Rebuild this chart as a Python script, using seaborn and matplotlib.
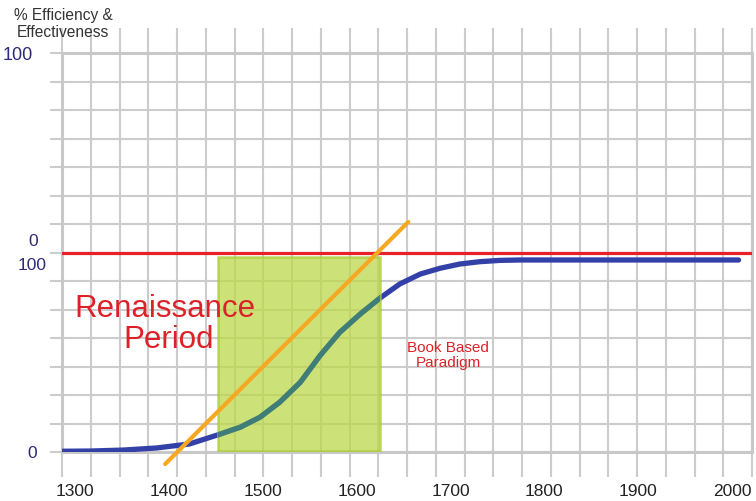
import numpy as np
import pandas as pd
import matplotlib
matplotlib.use("Agg")
import matplotlib.pyplot as plt
import seaborn as sns

# S-curve of efficiency & effectiveness over time
years = [1287, 1316, 1351, 1387, 1422, 1452, 1476, 1497, 1518, 1540, 1561,
         1582, 1604, 1625, 1646, 1668, 1689, 1710, 1731, 1753, 1774, 1838, 2007]
efficiency = [0.4, 0.5, 1.0, 2.1, 4.2, 8.9, 12.9, 18.1, 25.9, 36.3, 50.2,
              62.3, 71.9, 80.2, 87.5, 92.7, 95.7, 97.9, 99.1, 99.8, 100, 100, 100]

# Trend line across the Renaissance
trend_years = [1396, 1655]
trend_values = [-6.3, 119.8]

# Renaissance period band and the ceiling of the book-based paradigm
period_years = [1452, 1625]
period_levels = [0.5, 101.5]
ceiling = 103.6

tick_years = [1300, 1400, 1500, 1600, 1700, 1800, 1900, 2000]

W, H = 756, 502
x_min, x_max = 1286.1, 2021.3
y_min, y_max = 0.0, 207.8

sns.set_theme(style="white")
plt.rcParams["font.family"] = ["Liberation Sans", "DejaVu Sans"]

fig = plt.figure(figsize=(W / 100, H / 100), dpi=100)
fig.patch.set_facecolor("white")
ax = fig.add_axes([62 / W, 49 / H, 690 / W, 399 / H])
ax.set_facecolor("white")
ax.set_xlim(x_min, x_max)
ax.set_ylim(y_min, y_max)

grid_c = "#cccccc"
ax.set_xticks(np.linspace(x_min, x_max, 25))
ax.set_yticks(np.linspace(y_min, y_max, 15))
ax.grid(True, which="major", color=grid_c, linewidth=1.5, zorder=0)
ax.set_axisbelow(True)
ax.tick_params(axis="x", which="major", length=18, width=1.5, color=grid_c,
               direction="out", labelbottom=False, top=True, bottom=True)
ax.tick_params(axis="y", which="major", length=8.6, width=1.5, color=grid_c,
               direction="out", labelleft=False, left=True)
ax.set_xticks(tick_years, labels=[str(y) for y in tick_years], minor=True)
ax.tick_params(axis="x", which="minor", length=0, pad=22, labelsize=12.5,
               labelcolor="#222222")
for s in ax.spines.values():
    s.set_color("#c8c8c8")
    s.set_linewidth(2.2)

curve = pd.DataFrame({"year": years, "efficiency": efficiency})
sns.lineplot(data=curve, x="year", y="efficiency", ax=ax, color="#3340a8",
             linewidth=3.8, zorder=3, solid_capstyle="round",
             solid_joinstyle="round")

ax.axhline(ceiling, color="#e62228", linewidth=2.3, zorder=4)

band = plt.Rectangle((period_years[0], period_levels[0]),
                     period_years[1] - period_years[0],
                     period_levels[1] - period_levels[0],
                     facecolor="#bcd84a", alpha=0.75, edgecolor="#a9cc35",
                     linewidth=1.8, zorder=5)
ax.add_patch(band)

# curve seen through the band
inside = ax.plot(years, efficiency, color="#3f7d78", linewidth=3.8, zorder=6,
                 solid_joinstyle="round")[0]
inside.set_clip_path(band)

trend = pd.DataFrame({"year": trend_years, "value": trend_values})
sns.lineplot(data=trend, x="year", y="value", ax=ax, color="#f7a823",
             linewidth=3.0, zorder=7, clip_on=False)

ax.set_xlabel("")
ax.set_ylabel("")


def px(x, y):
    return x / W, 1 - y / H


navy = "#2d2a78"
fig.text(*px(18, 55), "100", ha="center", va="center", fontsize=13, color=navy)
fig.text(*px(33, 241), "0", ha="center", va="center", fontsize=12.5, color=navy)
fig.text(*px(32.5, 266), "100", ha="center", va="center", fontsize=12.5, color=navy)
fig.text(*px(32.5, 454), "0", ha="center", va="center", fontsize=12.5, color=navy)

fig.text(*px(63, 20), "% Efficiency &", ha="center", va="baseline",
         fontsize=11.2, color="#333333")
fig.text(*px(63, 36.7), "Effectiveness", ha="center", va="baseline",
         fontsize=11.2, color="#333333")

red = "#dc2228"
fig.text(*px(165, 316.7), "Renaissance", ha="center", va="baseline",
         fontsize=22.5, color=red, zorder=10)
fig.text(*px(168.5, 348.3), "Period", ha="center", va="baseline",
         fontsize=22.5, color=red, zorder=10)
fig.text(*px(448, 351.7), "Book Based", ha="center", va="baseline",
         fontsize=11, color=red)
fig.text(*px(448, 366.7), "Paradigm", ha="center", va="baseline",
         fontsize=11, color=red)

fig.savefig("out.png", dpi=100, facecolor="white")
